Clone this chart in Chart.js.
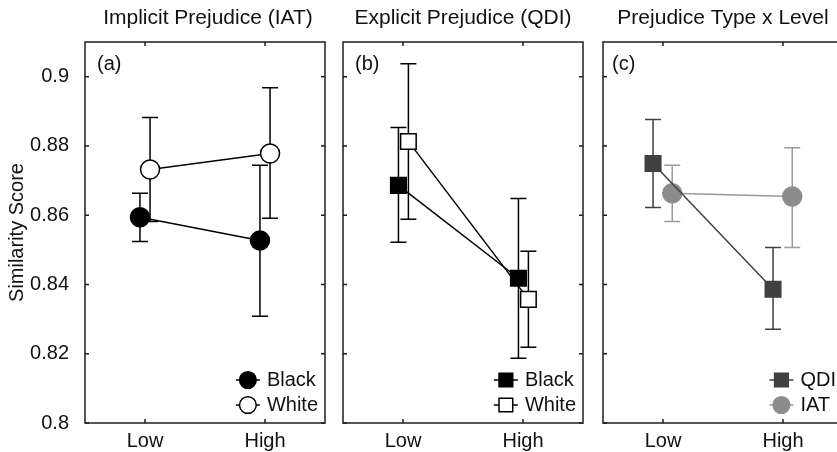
<!DOCTYPE html>
<html><head><meta charset="utf-8">
<script src="https://cdn.jsdelivr.net/npm/chart.js@4/dist/chart.umd.min.js"></script>
<style>
html,body{margin:0;padding:0;width:837px;height:452px;overflow:hidden;background:#fff;}
canvas{position:absolute;top:0;}
</style></head><body>
<canvas id="ca" width="330" height="452" style="left:0px"></canvas>
<canvas id="cb" width="255" height="452" style="left:333px"></canvas>
<canvas id="cc" width="253" height="452" style="left:595px"></canvas>
<script>
// ---- data ----
const categories = ['Low', 'High'];
const yTickValues = [0.8, 0.82, 0.84, 0.86, 0.88, 0.9];
const yTickLabels = ['0.8', '0.82', '0.84', '0.86', '0.88', '0.9'];
const yMin = 0.8, yMax = 0.91;

// (a) Implicit Prejudice (IAT)
const iatBlackMean = [0.8594, 0.8527];
const iatBlackLow  = [0.8524, 0.8308];
const iatBlackHigh = [0.8663, 0.8744];
const iatWhiteMean = [0.8732, 0.8778];
const iatWhiteLow  = [0.8582, 0.8591];
const iatWhiteHigh = [0.8882, 0.8968];

// (b) Explicit Prejudice (QDI)
const qdiBlackMean = [0.8686, 0.8418];
const qdiBlackLow  = [0.8522, 0.8187];
const qdiBlackHigh = [0.8853, 0.8648];
const qdiWhiteMean = [0.8813, 0.8357];
const qdiWhiteLow  = [0.8588, 0.8219];
const qdiWhiteHigh = [0.9037, 0.8496];

// (c) Prejudice Type x Level
const typeQdiMean = [0.8749, 0.8386];
const typeQdiLow  = [0.8622, 0.8271];
const typeQdiHigh = [0.8876, 0.8507];
const typeIatMean = [0.8663, 0.8654];
const typeIatLow  = [0.8582, 0.8507];
const typeIatHigh = [0.8744, 0.8795];

// ---- styling / rendering ----
const FONT = "'Liberation Sans', Arial, Helvetica, sans-serif";
const TXT = '#111';
Chart.defaults.font.family = FONT;
Chart.defaults.color = TXT;

function series(label, mean, lo, hi, offset, st) {
  return {
    label: label,
    data: categories.map((c, i) => ({x: i + 1 + offset, y: mean[i]})),
    borderColor: st.line, borderWidth: 1.5, tension: 0,
    pointStyle: st.shape, pointRadius: st.r, pointHoverRadius: st.r,
    pointBackgroundColor: st.fill, pointBorderColor: st.edge, pointBorderWidth: 1.5,
    errLo: lo, errHi: hi, errColor: st.err, legendR: st.r * 0.88
  };
}

function drawMarker(ctx, shape, x, y, r, fill, edge) {
  ctx.beginPath();
  if (shape === 'rect') {
    const s = Math.SQRT1_2 * r;
    ctx.rect(x - s, y - s, 2 * s, 2 * s);
  } else {
    ctx.arc(x, y, r, 0, Math.PI * 2);
  }
  ctx.fillStyle = fill; ctx.fill();
  ctx.lineWidth = 1.5; ctx.strokeStyle = edge; ctx.stroke();
}

const framePlugin = {
  id: 'frame',
  beforeDatasetsDraw(chart) {
    const ctx = chart.ctx, ys = chart.scales.y;
    ctx.save();
    chart.data.datasets.forEach((ds, di) => {
      const meta = chart.getDatasetMeta(di);
      meta.data.forEach((pt, j) => {
        const x = pt.x, a = ys.getPixelForValue(ds.errLo[j]), b = ys.getPixelForValue(ds.errHi[j]);
        ctx.strokeStyle = ds.errColor; ctx.lineWidth = 1.5;
        ctx.beginPath();
        ctx.moveTo(x, a); ctx.lineTo(x, b);
        ctx.moveTo(x - 8, a); ctx.lineTo(x + 8, a);
        ctx.moveTo(x - 8, b); ctx.lineTo(x + 8, b);
        ctx.stroke();
      });
    });
    ctx.restore();
  },
  afterDatasetsDraw(chart, args, o) {
    const ctx = chart.ctx, ca = chart.chartArea, xs = chart.scales.x, ys = chart.scales.y;
    ctx.save();
    ctx.strokeStyle = '#1e1e1e'; ctx.lineWidth = 1.5;
    ctx.strokeRect(ca.left, ca.top, ca.right - ca.left, ca.bottom - ca.top);
    ctx.beginPath();
    xs.ticks.forEach(t => {
      const px = xs.getPixelForValue(t.value);
      ctx.moveTo(px, ca.bottom); ctx.lineTo(px, ca.bottom - 4);
      ctx.moveTo(px, ca.top); ctx.lineTo(px, ca.top + 4);
    });
    ys.ticks.forEach(t => {
      const py = ys.getPixelForValue(t.value);
      ctx.moveTo(ca.left, py); ctx.lineTo(ca.left + 4, py);
      ctx.moveTo(ca.right, py); ctx.lineTo(ca.right - 4, py);
    });
    ctx.stroke();
    ctx.fillStyle = TXT;
    // panel title
    ctx.font = '21px ' + FONT;
    ctx.textBaseline = 'middle'; ctx.textAlign = 'center';
    ctx.fillText(o.title, (ca.left + ca.right) / 2 + o.titleShift, 18);
    // panel tag
    ctx.font = '20px ' + FONT;
    ctx.textAlign = 'left';
    ctx.fillText(o.tag, ca.left + o.tagInset, ca.top + 22);
    // legend
    const dss = chart.data.datasets;
    const maxW = Math.max(...dss.map(d => ctx.measureText(d.label).width));
    const textLeft = ca.right - 7 - maxW;
    const mx = textLeft - 19;
    dss.forEach((d, k) => {
      const y = ca.bottom - 43 + k * 25;
      ctx.strokeStyle = d.borderColor; ctx.lineWidth = 1.5;
      ctx.beginPath(); ctx.moveTo(mx - 12, y); ctx.lineTo(mx + 12, y); ctx.stroke();
      drawMarker(ctx, d.pointStyle, mx, y, d.legendR, d.pointBackgroundColor, d.pointBorderColor);
      ctx.fillStyle = TXT;
      ctx.fillText(d.label, textLeft, y);
    });
    ctx.restore();
  }
};

function makePanel(id, p) {
  return new Chart(document.getElementById(id), {
    type: 'line',
    data: {datasets: p.datasets},
    options: {
      responsive: false, animation: false, events: [], devicePixelRatio: 1,
      layout: {autoPadding: false, padding: {left: p.padLeft, right: 5, top: 42, bottom: 0}},
      plugins: {
        legend: {display: false}, tooltip: {enabled: false}, title: {display: false},
        frame: {title: p.title, titleShift: p.titleShift, tag: p.tag, tagInset: p.tagInset}
      },
      scales: {
        x: {
          type: 'linear', min: 0.5, max: 2.5,
          grid: {display: false}, border: {display: false},
          afterBuildTicks: s => { s.ticks = categories.map((c, i) => ({value: i + 1})); },
          ticks: {callback: v => categories[Math.round(v) - 1], font: {size: 20, lineHeight: 1}, color: TXT,
                  padding: 0, maxRotation: 0, autoSkip: false},
          afterFit: s => { s.height = 29; s.paddingLeft = 0; s.paddingRight = 0; }
        },
        y: {
          type: 'linear', min: yMin, max: yMax, display: p.showY,
          grid: {display: false}, border: {display: false},
          afterBuildTicks: s => { s.ticks = yTickValues.map(v => ({value: v})); },
          ticks: {callback: (v, i) => yTickLabels[i], font: {size: 20}, color: TXT, padding: 8},
          title: {display: p.showY, text: 'Similarity Score', font: {size: 20}, color: TXT,
                  padding: {top: 5, bottom: 0}},
          afterFit: s => { s.width = p.showY ? 85 : 0; }
        }
      }
    },
    plugins: [framePlugin]
  });
}

const sBlackCircle = {shape: 'circle', r: 9.5, fill: '#000', edge: '#000', line: '#000', err: '#000'};
const sWhiteCircle = {shape: 'circle', r: 9.5, fill: '#fff', edge: '#000', line: '#000', err: '#000'};
const sBlackSquare = {shape: 'rect', r: 11, fill: '#000', edge: '#000', line: '#000', err: '#000'};
const sWhiteSquare = {shape: 'rect', r: 11, fill: '#fff', edge: '#000', line: '#000', err: '#000'};
const sQdi = {shape: 'rect', r: 11, fill: '#404040', edge: '#404040', line: '#404040', err: '#404040'};
const sIat = {shape: 'circle', r: 9.5, fill: '#8c8c8c', edge: '#8c8c8c', line: '#999999', err: '#9c9c9c'};

makePanel('ca', {
  title: 'Implicit Prejudice (IAT)', titleShift: 3, tag: '(a)', tagInset: 12, showY: true, padLeft: 0,
  datasets: [
    series('Black', iatBlackMean, iatBlackLow, iatBlackHigh, -0.042, sBlackCircle),
    series('White', iatWhiteMean, iatWhiteLow, iatWhiteHigh, 0.042, sWhiteCircle)
  ]
});
makePanel('cb', {
  title: 'Explicit Prejudice (QDI)', titleShift: 0, tag: '(b)', tagInset: 12, showY: false, padLeft: 10,
  datasets: [
    series('Black', qdiBlackMean, qdiBlackLow, qdiBlackHigh, -0.038, sBlackSquare),
    series('White', qdiWhiteMean, qdiWhiteLow, qdiWhiteHigh, 0.045, sWhiteSquare)
  ]
});
makePanel('cc', {
  title: 'Prejudice Type x Level', titleShift: 0, tag: '(c)', tagInset: 9, showY: false, padLeft: 8,
  datasets: [
    series('QDI', typeQdiMean, typeQdiLow, typeQdiHigh, -0.083, sQdi),
    series('IAT', typeIatMean, typeIatLow, typeIatHigh, 0.077, sIat)
  ]
});
</script>
</body></html>
